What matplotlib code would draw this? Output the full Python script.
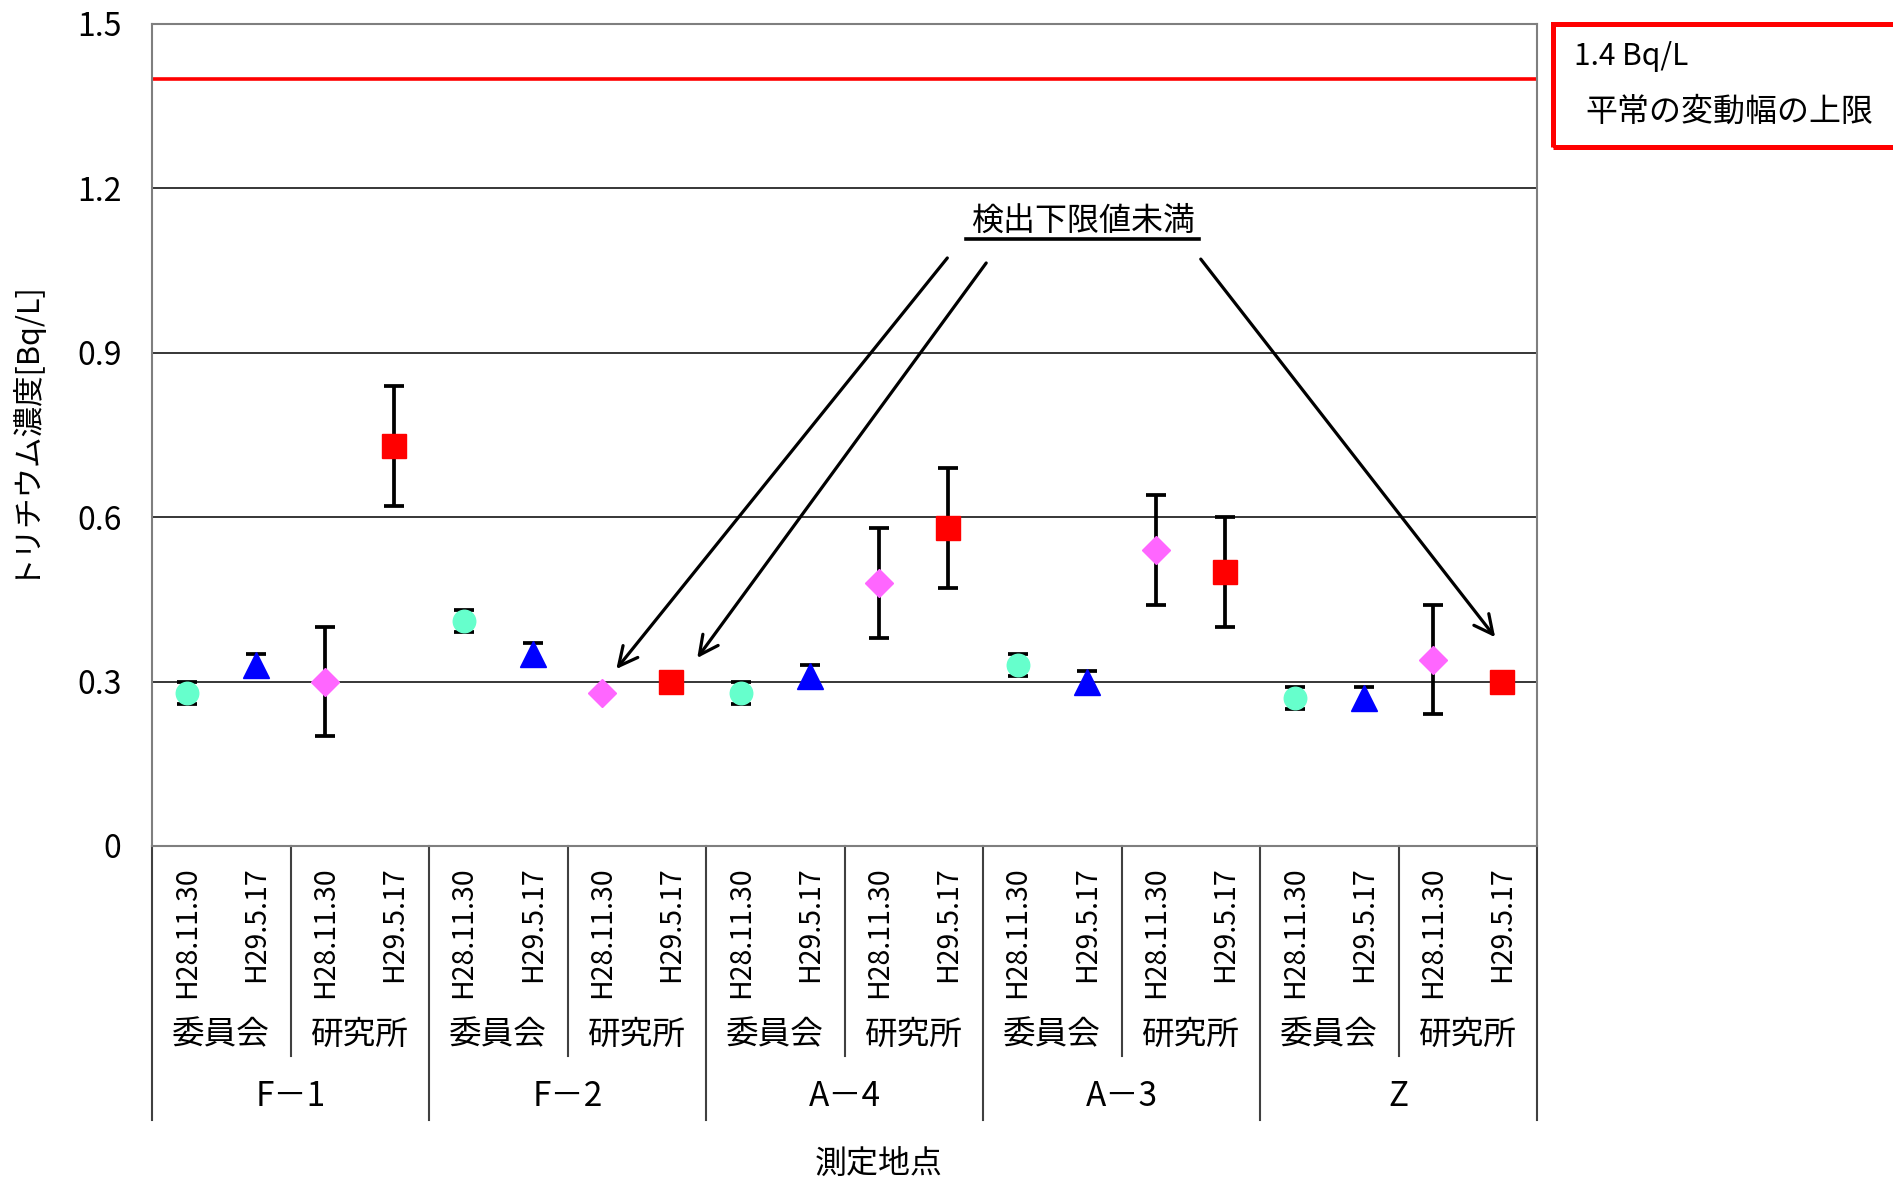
import numpy as np
import matplotlib
matplotlib.use('Agg')
import matplotlib.pyplot as plt
from matplotlib.patches import Rectangle

plt.rcParams['font.family'] = ['Noto Sans CJK JP', 'DejaVu Sans']

# 測定地点・採取機関・採取日
sites = ['F－1', 'F－2', 'A－4', 'A－3', 'Z']
orgs = ['委員会', '研究所']
dates = ['H28.11.30', 'H29.5.17']

# トリチウム濃度 [Bq/L] と計数誤差 (nan は検出下限値未満)
com_h28 = [0.28, 0.41, 0.28, 0.33, 0.27]
com_h28_err = [0.02, 0.02, 0.02, 0.02, 0.02]
com_h29 = [0.33, 0.35, 0.31, 0.30, 0.27]
com_h29_err = [0.02, 0.02, 0.02, 0.02, 0.02]
lab_h28 = [0.30, 0.28, 0.48, 0.54, 0.34]
lab_h28_err = [0.10, np.nan, 0.10, 0.10, 0.10]
lab_h29 = [0.73, 0.30, 0.58, 0.50, 0.30]
lab_h29_err = [0.11, np.nan, 0.11, 0.10, np.nan]

upper_limit = 1.4

series = [
    (com_h28, com_h28_err, 'o', '#66FFCC', 16.2),
    (com_h29, com_h29_err, '^', '#0000FF', 18.5),
    (lab_h28, lab_h28_err, 'D', '#FF66FF', 14.2),
    (lab_h29, lab_h29_err, 's', '#FF0000', 17.2),
]

W, H = 1893, 1178
fig = plt.figure(figsize=(W / 100, H / 100), dpi=100)
ax = fig.add_axes([152 / W, 1 - 846 / H, (1537 - 152) / W, (846 - 24) / H])

n_slot = len(sites) * len(orgs) * len(dates)
for k, (vals, errs, mk, col, ms) in enumerate(series):
    x = np.arange(len(sites)) * 4 + k + 0.5
    v = np.array(vals)
    e = np.array(errs)
    ok = ~np.isnan(e)
    ax.errorbar(x[ok], v[ok], yerr=e[ok], fmt='none', ecolor='black',
                elinewidth=2.7, capsize=7.5, capthick=2.7, zorder=3)
    ax.plot(x, v, linestyle='none', marker=mk, markersize=ms,
            markerfacecolor=col, markeredgecolor=col, zorder=4)

ax.axhline(upper_limit, color='#FF0000', lw=2.6, zorder=2)

ax.set_xlim(0, n_slot)
ax.set_ylim(0, 1.5)
ax.set_yticks([0, 0.3, 0.6, 0.9, 1.2, 1.5])
ax.set_yticklabels(['0', '0.3', '0.6', '0.9', '1.2', '1.5'])
ax.tick_params(axis='y', length=0, labelsize=23, pad=22)
ax.set_xticks([])
ax.grid(axis='y', color='black', lw=1.1, zorder=1)
for sp in ax.spines.values():
    sp.set_color('#7f7f7f')
    sp.set_linewidth(1.5)
ax.set_ylabel('トリチウム濃度[Bq/L]', fontsize=22, labelpad=29)
ax.yaxis.label.set_y(0.51)

# 下部の階層ラベル
tr = ax.get_xaxis_transform()
axh = 846 - 24
def below(px):
    return -px / axh

for i in range(n_slot):
    ax.text(i + 0.5, below(20), dates[i % 2], rotation=90, ha='center',
            va='top', fontsize=20.5, transform=tr)
for j in range(len(sites) * len(orgs)):
    ax.text(j * 2 + 1, below(189), orgs[j % 2], ha='center', va='center',
            fontsize=23.5, transform=tr)
    if j % 2 == 1:
        ax.plot([j * 2, j * 2], [0, below(210)], color='#404040', lw=1.5,
                transform=tr, clip_on=False)
for s, name in enumerate(sites):
    ax.text(s * 4 + 2, below(251), name, ha='center', va='center',
            fontsize=24, transform=tr)
for s in range(len(sites) + 1):
    ax.plot([s * 4, s * 4], [0, below(274)], color='#404040', lw=1.5,
            transform=tr, clip_on=False)
ax.text(10.5, below(318), '測定地点', ha='center', va='center', fontsize=23,
        transform=tr)

# 検出下限値未満の注記
ax.text(13.44, 1.141, '検出下限値未満', ha='center', va='center', fontsize=23,
        zorder=5)
ax.plot([11.75, 15.12], [1.108, 1.108], color='black', lw=2.6, zorder=5)
arrow = dict(arrowstyle='->', color='black', lw=2.3, mutation_scale=34)
targets = [(6.5, lab_h28[1], 11.51, 1.077, 0.18, 0.039),
           (7.5, lab_h29[1], 12.07, 1.068, 0.35, 0.039),
           (19.5, lab_h29[4], 15.12, 1.075, -0.08, 0.077)]
for px, pv, sx, sy, dx, dy in targets:
    ax.annotate('', xy=(px + dx, pv + dy), xytext=(sx, sy),
                arrowprops=arrow, zorder=5)

# 平常の変動幅の上限
fig.patches.append(Rectangle((1553 / W, 1 - 147 / H), 0.2, 123 / H,
                             transform=fig.transFigure, fill=False,
                             edgecolor='#FF0000', lw=3.6))
fig.text(1574 / W, 1 - 57 / H, f'{upper_limit} Bq/L', ha='left',
         va='center', fontsize=21.5)
fig.text(1585 / W, 1 - 112 / H, '平常の変動幅の上限', ha='left', va='center',
         fontsize=23)

fig.savefig('out.png', dpi=100)
